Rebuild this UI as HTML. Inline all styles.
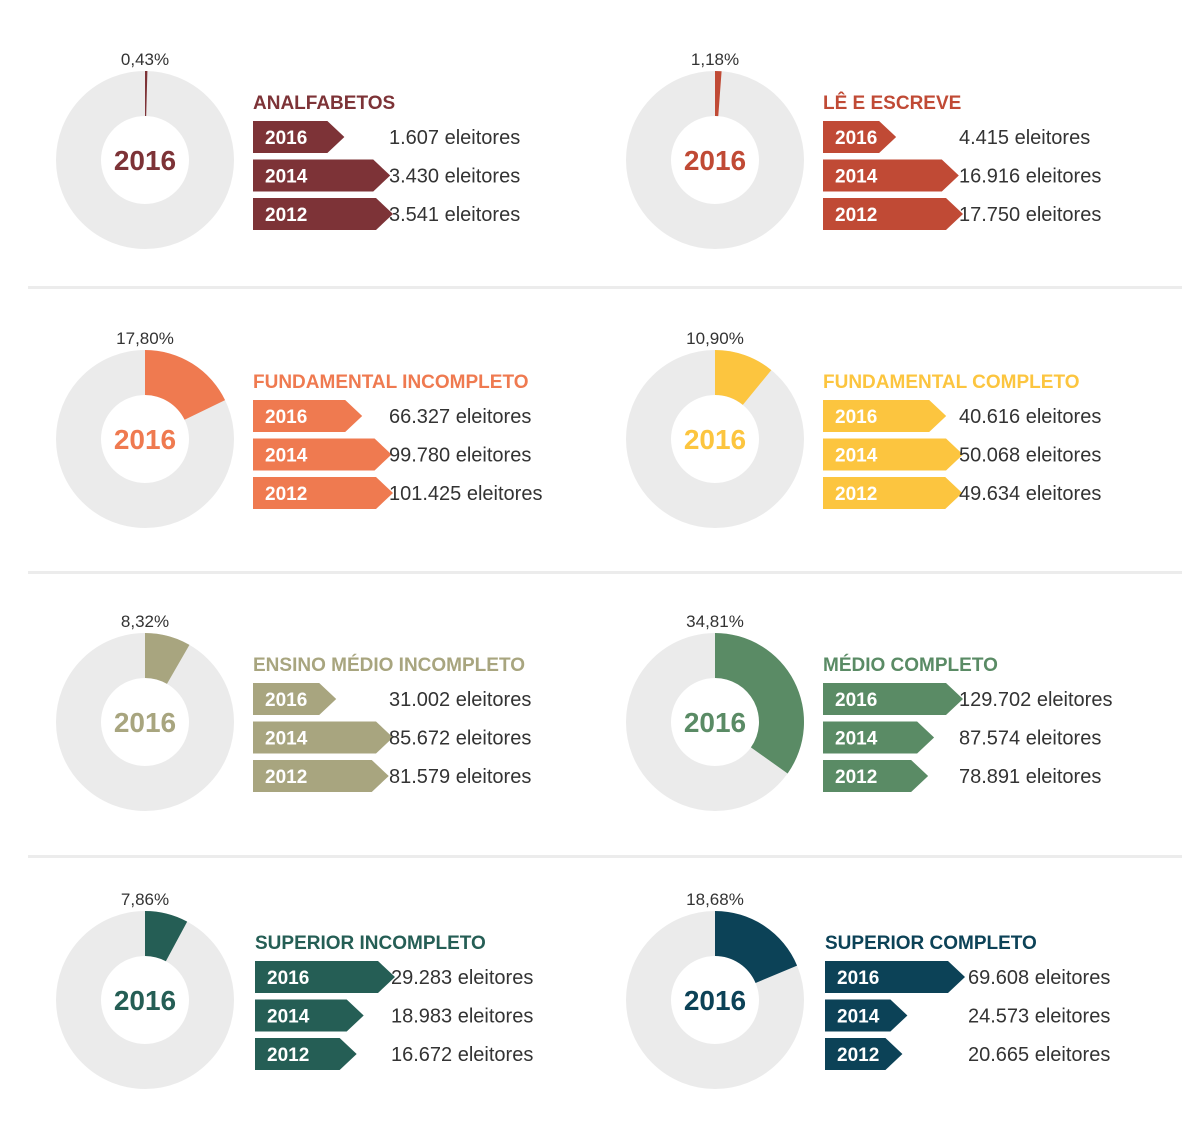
<!DOCTYPE html>
<html><head><meta charset="utf-8">
<style>
body{margin:0;background:#fff;}
svg{display:block;font-family:"Liberation Sans",sans-serif;}
</style></head>
<body>
<svg id="chart" width="1200" height="1144" viewBox="0 0 1200 1144">
<rect x="28" y="286" width="1154" height="3" fill="#ececec"/>
<rect x="28" y="571" width="1154" height="3" fill="#ececec"/>
<rect x="28" y="855" width="1154" height="3" fill="#ececec"/>
</svg>
<script>
const categories=["ANALFABETOS","LÊ E ESCREVE","FUNDAMENTAL INCOMPLETO","FUNDAMENTAL COMPLETO","ENSINO MÉDIO INCOMPLETO","MÉDIO COMPLETO","SUPERIOR INCOMPLETO","SUPERIOR COMPLETO"];
const shares2016=[0.43,1.18,17.80,10.90,8.32,34.81,7.86,18.68];
const shareLabels=["0,43%","1,18%","17,80%","10,90%","8,32%","34,81%","7,86%","18,68%"];
const voters2016=[1607,4415,66327,40616,31002,129702,29283,69608];
const voters2014=[3430,16916,99780,50068,85672,87574,18983,24573];
const voters2012=[3541,17750,101425,49634,81579,78891,16672,20665];
const years=["2016","2014","2012"];
const colors=["#7d3337","#c04a35","#ef7a50","#fcc53f","#a8a57f","#5a8b65","#255e55","#0c4257"];

const NS="http://www.w3.org/2000/svg";
const svg=document.getElementById('chart');
function mk(tag,attrs,parent){const e=document.createElementNS(NS,tag);for(const k in attrs)e.setAttribute(k,attrs[k]);(parent||svg).appendChild(e);return e;}
function fmt(v){return String(v).replace(/\B(?=(\d{3})+(?!\d))/g,'.')+' eleitores';}
const rowY=[160,439,722,1000];
const colX=[145,715];
const R=89,r=44;
function angleScale(p){return p/100*2*Math.PI;}
function barScale(v,max){return 51+89*(v/max);}
for(let i=0;i<categories.length;i++){
  const cx=colX[i%2], cy=rowY[Math.floor(i/2)];
  const g=mk('g',{});
  
  
  const bg=mk('circle',{cx:cx,cy:cy,r:(R+r)/2,fill:'none',stroke:'#ebebeb','stroke-width':R-r},g);
  
  
  const a=angleScale(shares2016[i]);
  const large=a>Math.PI?1:0;
  const x1=cx+R*Math.sin(a),y1=cy-R*Math.cos(a),x2=cx+r*Math.sin(a),y2=cy-r*Math.cos(a);
  const slice=mk('path',{d:`M${cx},${cy-R} A${R},${R} 0 ${large} 1 ${x1},${y1} L${x2},${y2} A${r},${r} 0 ${large} 0 ${cx},${cy-r} Z`,fill:colors[i]},g);
  
  
  const ct=mk('text',{x:cx,y:cy+10,'text-anchor':'middle','font-size':28,'font-weight':'bold',fill:colors[i]},g);
  ct.textContent='2016';
  
  
  const pl=mk('text',{x:cx,y:cy-95,'text-anchor':'middle','font-size':17,fill:'#333'},g);
  pl.textContent=shareLabels[i];
  
  
  const bx=cx+108+(i>=6?2:0);
  const tt=mk('text',{x:bx,y:cy-51,'font-size':19,'font-weight':'bold',fill:colors[i]},g);
  tt.textContent=categories[i];
  
  
  const vals=[voters2016[i],voters2014[i],voters2012[i]];
  const mx=Math.max(...vals);
  const vx=bx+136+(i===7?7:0);
  for(let k=0;k<3;k++){
    const by=cy-39+k*38.5;
    const w=barScale(vals[k],mx);
    const p=mk('path',{d:`M${bx},${by} L${bx+w-17},${by} L${bx+w},${by+16} L${bx+w-17},${by+32} L${bx},${by+32} Z`,fill:colors[i]},g);
    
    
    const yl=mk('text',{x:bx+12,y:by+23,'font-size':19,'font-weight':'bold',fill:'#fff'},g);
    yl.textContent=years[k];
    
    
    const vl=mk('text',{x:vx,y:by+23,'font-size':20,fill:'#333'},g);
    vl.textContent=fmt(vals[k]);
    
    
  }
}
</script>
</body></html>
